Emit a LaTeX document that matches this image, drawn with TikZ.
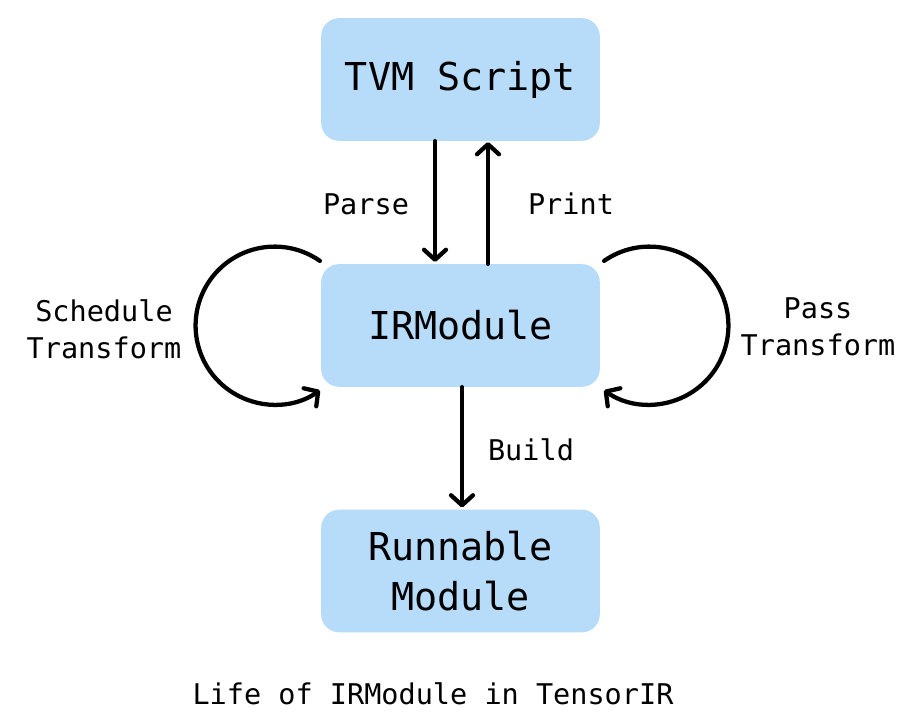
\documentclass[tikz,border=0pt]{standalone}
\usepackage{fontspec}
\setmainfont{DejaVu Sans Mono}
\usetikzlibrary{arrows.meta,calc}
\definecolor{boxblue}{RGB}{182,220,250}
\begin{document}
\begin{tikzpicture}[x=0.75pt,y=-0.75pt,
  box/.style={fill=boxblue,rounded corners=13.5pt,minimum width=209pt,minimum height=92pt,inner sep=0pt,align=center,font=\fontsize{28.8}{37.5}\selectfont},
  lbl/.style={inner sep=0pt,align=center,font=\fontsize{21.4}{27.75}\selectfont},
  arr/.style={line width=3.2pt,line cap=round,-{Straight Barb[length=7.5pt,width=16.5pt,line cap=round,line join=round]}}]
\useasboundingbox (0,0) rectangle (922,728);
\node[box] (tvm) at (460.5,79.5) {\raisebox{-2pt}{TVM Script}};
\node[box] (ir) at (460.5,325.5) {\raisebox{-1pt}{IRModule}};
\node[box] (run) at (460.5,571) {Runnable\\Module};
\draw[arr] ($(tvm.south)+(-25.5,0)$) -- ($(ir.north)+(-25.5,-2)$);
\draw[arr] ($(ir.north)+(27.5,0)$) -- ($(tvm.south)+(27.5,1)$);
\draw[arr] ($(ir.south)+(1.5,0)$) -- ($(run.north)+(1.5,-2)$);
\draw[arr] ($(ir.north west)+(-1,-3)$) arc[start angle=-55,end angle=-305,radius=79];
\draw[arr] ($(ir.north east)+(4,-3)$) arc[start angle=-125,end angle=125,radius=79];
\node[lbl] (parse) at (366,204) {Parse};
\node[lbl] (print) at (571,204) {Print};
\node[lbl] (build) at (531,450) {Build};
\node[lbl] (sched) at (104,329) {Schedule\\Transform};
\node[lbl] (pass) at (818,327) {Pass\\Transform};
\node[lbl] (cap) at (433,694) {Life of IRModule in TensorIR};
\end{tikzpicture}
\end{document}
